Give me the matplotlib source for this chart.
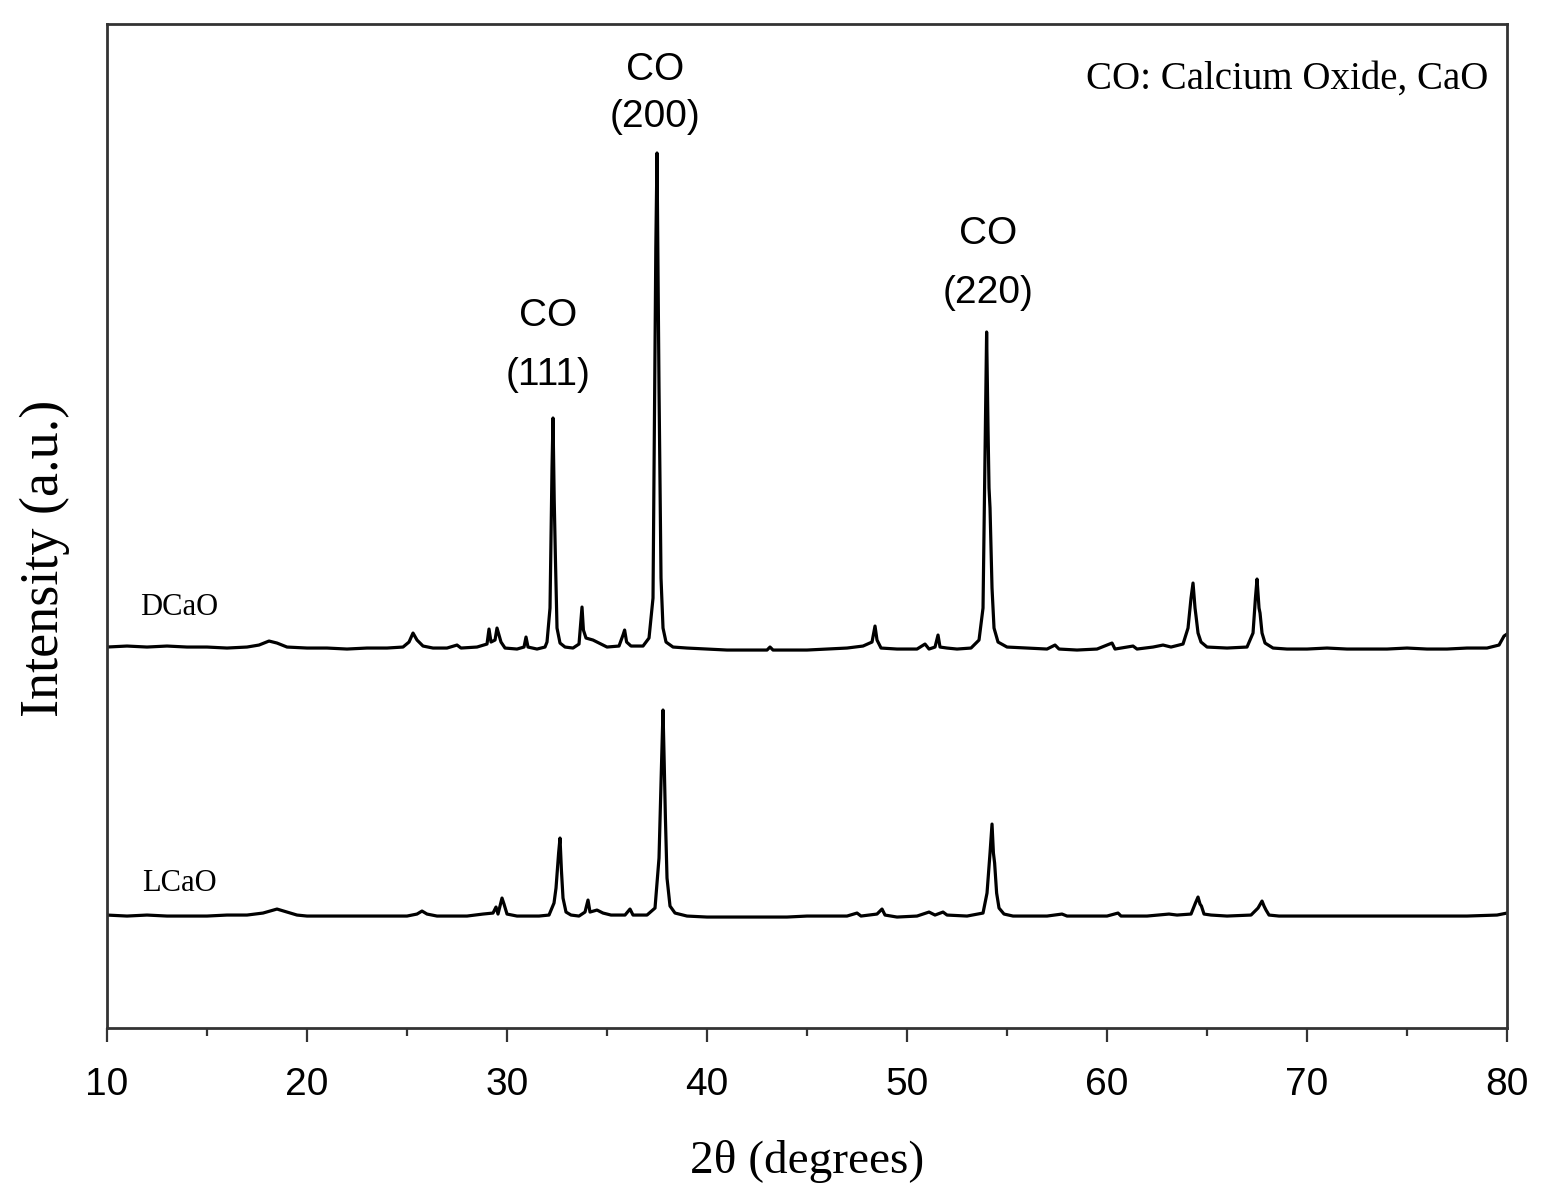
import matplotlib
matplotlib.use("Agg")
import matplotlib.pyplot as plt
from matplotlib.ticker import MultipleLocator

# XRD traces (2theta in degrees, intensity in a.u., offset already applied)
dcao_2theta = [10.0, 11.0, 12.0, 13.0, 14.0, 15.0, 16.0, 17.0, 17.6, 18.1, 18.5, 19.0,
               20.0, 21.0, 22.0, 23.0, 24.0, 24.8, 25.1, 25.3, 25.5, 25.8, 26.3, 27.0,
               27.5, 27.7, 28.5, 29.0, 29.1, 29.2, 29.4, 29.5, 29.7, 29.9, 30.5, 30.85,
               30.95, 31.05, 31.5, 31.9, 32.0, 32.15, 32.25, 32.3, 32.36, 32.42, 32.5,
               32.65, 32.9, 33.3, 33.6, 33.7, 33.75, 33.82, 33.95, 34.3, 34.6, 35.0,
               35.6, 35.8, 35.88, 35.98, 36.2, 36.8, 37.1, 37.3, 37.44, 37.5, 37.55,
               37.6, 37.7, 37.8, 37.95, 38.3, 39.0, 40.0, 41.0, 42.0, 43.0, 43.15,
               43.3, 44.0, 45.0, 46.0, 47.0, 47.8, 48.25, 48.4, 48.5, 48.7, 49.5,
               50.5, 50.9, 51.1, 51.4, 51.55, 51.65, 52.0, 52.5, 53.2, 53.6, 53.8,
               53.92, 53.98, 54.05, 54.1, 54.15, 54.25, 54.35, 54.55, 55.0, 56.0,
               57.0, 57.4, 57.6, 58.5, 59.5, 60.25, 60.4, 61.3, 61.5, 62.3, 62.8,
               63.2, 63.8, 64.05, 64.2, 64.3, 64.4, 64.45, 64.55, 64.7, 65.0, 66.0,
               67.0, 67.3, 67.42, 67.5, 67.6, 67.65, 67.75, 67.9, 68.3, 69.0, 70.0,
               71.0, 72.0, 73.0, 74.0, 75.0, 76.0, 77.0, 78.0, 79.0, 79.6, 79.85, 80.0]
dcao_counts = [381, 382, 381, 382, 381, 381, 380, 381, 383, 387, 385, 381,
               380, 380, 379, 380, 380, 381, 386, 395, 388, 382, 380, 380,
               383, 380, 381, 384, 399, 386, 388, 400, 386, 380, 379, 381,
               391, 381, 379, 381, 386, 420, 560, 610, 528, 470, 400,
               385, 381, 380, 384, 408, 421, 398, 390, 388, 385, 381,
               382, 393, 398, 386, 382, 382, 390, 430, 780, 875, 760,
               640, 450, 400, 386, 381, 380, 379, 378, 378, 378, 381,
               378, 378, 378, 379, 380, 382, 386, 402, 388, 380, 379,
               379, 384, 379, 381, 393, 381, 380, 379, 380, 388, 420,
               600, 696, 600, 540, 520, 440, 400, 386, 381, 380,
               379, 383, 379, 378, 379, 385, 379, 382, 379, 381, 383,
               381, 384, 400, 430, 445, 420, 412, 395, 386, 381, 380,
               381, 395, 430, 449, 420, 415, 395, 385, 380, 379, 379,
               380, 379, 379, 379, 380, 379, 379, 380, 380, 383, 392, 394]

lcao_2theta = [10.0, 11.0, 12.0, 13.0, 14.0, 15.0, 16.0, 17.0, 17.8, 18.5, 19.0, 19.5,
               20.0, 21.0, 22.0, 23.0, 24.0, 25.0, 25.5, 25.75, 26.0, 26.5, 27.0, 28.0,
               28.8, 29.3, 29.45, 29.55, 29.75, 29.85, 30.0, 30.5, 31.0, 31.6, 32.1,
               32.35, 32.45, 32.58, 32.65, 32.72, 32.8, 32.95, 33.2, 33.6, 33.9, 34.05,
               34.15, 34.5, 34.8, 35.2, 35.9, 36.15, 36.3, 37.0, 37.4, 37.6, 37.72,
               37.8, 37.86, 37.92, 38.0, 38.15, 38.4, 39.0, 40.0, 41.0, 42.0, 43.0,
               44.0, 45.0, 46.0, 47.0, 47.5, 47.7, 48.5, 48.75, 48.9, 49.5, 50.5,
               51.1, 51.4, 51.8, 52.0, 53.0, 53.8, 54.0, 54.15, 54.25, 54.32, 54.38,
               54.48, 54.6, 54.85, 55.3, 56.0, 57.0, 57.75, 58.0, 59.0, 60.0, 60.55,
               60.7, 62.0, 63.1, 63.5, 64.2, 64.42, 64.55, 64.65, 64.72, 64.85, 65.2,
               66.0, 67.2, 67.55, 67.75, 67.85, 67.95, 68.1, 68.6, 70.0, 72.0, 74.0,
               76.0, 78.0, 79.5, 80.0]
lcao_counts = [113, 112, 113, 112, 112, 112, 113, 113, 115, 119, 116, 113,
               112, 112, 112, 112, 112, 112, 114, 117, 114, 112, 112, 112,
               114, 115, 121, 114, 130, 124, 114, 112, 112, 112, 113,
               125, 140, 175, 190, 158, 130, 116, 113, 112, 116, 128,
               116, 118, 115, 113, 113, 119, 113, 113, 120, 170, 260,
               318, 265, 210, 150, 122, 115, 112, 111, 111, 111, 111,
               111, 112, 112, 112, 115, 112, 114, 119, 113, 111, 112,
               116, 113, 116, 113, 112, 115, 135, 175, 204, 175, 165,
               135, 120, 114, 112, 112, 112, 114, 112, 112, 112, 115,
               112, 112, 114, 113, 114, 125, 131, 124, 122, 114, 113,
               112, 113, 120, 127, 122, 118, 113, 112, 112, 112, 112,
               112, 112, 113, 115]

peak_labels = ["(111)", "(200)", "(220)"]
peak_label_x = [32.05, 37.4, 54.05]
co_label_y = [712, 958, 794]
hkl_label_y = [653, 911, 735]

serif = ["Liberation Serif", "DejaVu Serif"]
sans = ["Liberation Sans", "DejaVu Sans"]

fig = plt.figure(figsize=(15.53, 12.01), dpi=100)
ax = fig.add_axes([0.0689, 0.144, 0.9015, 0.836])

ax.plot(dcao_2theta, dcao_counts, color="black", lw=2.3)
ax.plot(lcao_2theta, lcao_counts, color="black", lw=2.3)

ax.set_xlim(10, 80)
ax.set_ylim(0, 1004)
ax.set_yticks([])
ax.xaxis.set_major_locator(MultipleLocator(10))
ax.xaxis.set_minor_locator(MultipleLocator(5))
ax.tick_params(axis="x", which="major", direction="out", length=10, width=1.6,
               pad=18, labelsize=28, color="#333333")
ax.tick_params(axis="x", which="minor", direction="out", length=6, width=1.6,
               color="#333333")
for lab in ax.get_xticklabels():
    lab.set_family(sans)
for sp in ax.spines.values():
    sp.set_linewidth(2.0)
    sp.set_color("#333333")

ax.set_xlabel("2θ (degrees)", family=serif, fontsize=34, labelpad=27)
fig.text(0.029, 0.535, "Intensity (a.u.)", family=serif, fontsize=39,
         rotation=90, ha="center", va="center")

for lab, px, cy, hy in zip(peak_labels, peak_label_x, co_label_y, hkl_label_y):
    ax.text(px, cy, "CO", family=sans, fontsize=28, ha="center", va="center")
    ax.text(px, hy, lab, family=sans, fontsize=28, ha="center", va="center")

ax.text(0.987, 0.945, "CO: Calcium Oxide, CaO", transform=ax.transAxes,
        family=serif, fontsize=28, ha="right", va="center")
ax.text(11.65, 421, "DCaO", family=serif, fontsize=22, ha="left", va="center")
ax.text(11.75, 145, "LCaO", family=serif, fontsize=22, ha="left", va="center")

fig.savefig("out.png", dpi=100)
